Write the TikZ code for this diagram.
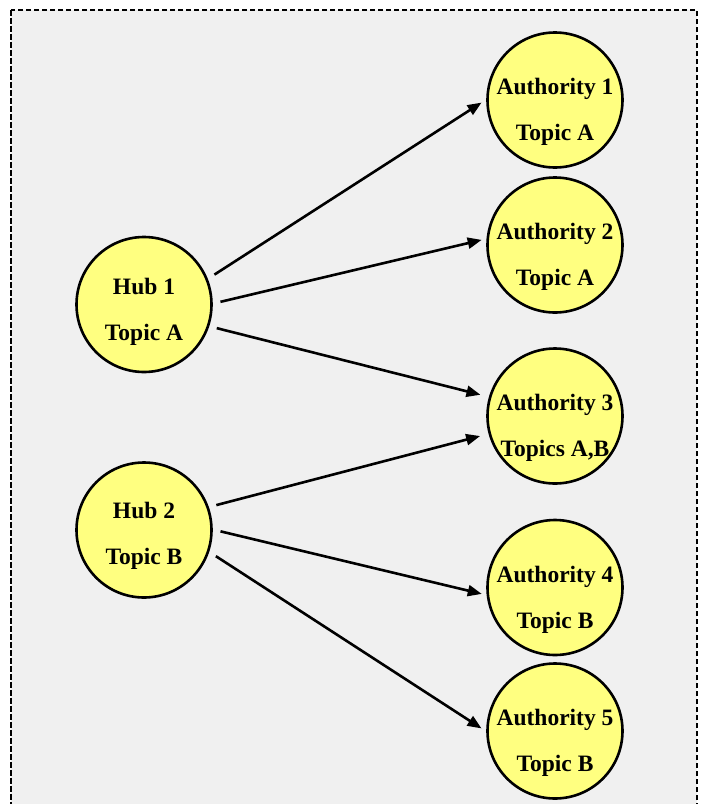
\documentclass[tikz,border=0pt]{standalone}
\usepackage{fontspec}
\setmainfont{Liberation Serif}
\usetikzlibrary{arrows.meta}
\definecolor{panelgray}{HTML}{F0F0F0}
\definecolor{nodeyellow}{HTML}{FFFF80}
\begin{document}
\begin{tikzpicture}[x=1pt,y=-1pt,
  panel/.style={draw=black,fill=panelgray,line width=2.8pt,dash pattern=on 5.5pt off 2.5pt},
  topic/.style={circle,draw=black,fill=nodeyellow,line width=2.6pt,minimum size=135pt,inner sep=0pt},
  hub/.style={topic,outer sep=9pt},
  authority/.style={topic,outer sep=6pt},
  caption/.style={align=center,inner sep=0pt,font=\fontsize{23.5}{46}\selectfont\bfseries},
  link/.style={line width=2.6pt,-{Triangle[length=14pt,width=11pt]}}]
  \useasboundingbox (0,0) rectangle (703,804);
  % dashed panel, running past the lower edge
  \path[panel] (11,10) rectangle (697,830);

  % hubs
  \node[hub] (h1) at (144,304.5) {};
  \node[hub] (h2) at (144,530) {};
  \node[caption] (h1t) at ([yshift=-7pt]h1.center) {Hub 1\\Topic A};
  \node[caption] (h2t) at ([yshift=-6pt]h2.center) {Hub 2\\Topic B};

  % authorities
  \node[authority] (a1) at (555,100) {};
  \node[authority] (a2) at (555,245) {};
  \node[authority] (a3) at (555,416) {};
  \node[authority] (a4) at (555,587.5) {};
  \node[authority] (a5) at (555,731) {};
  \node[caption] (a1t) at ([yshift=-12pt]a1.center) {Authority 1\\Topic A};
  \node[caption] (a2t) at ([yshift=-12pt]a2.center) {Authority 2\\Topic A};
  \node[caption] (a3t) at ([yshift=-12pt]a3.center) {Authority 3\\Topics A,B};
  \node[caption] (a4t) at ([yshift=-12pt]a4.center) {Authority 4\\Topic B};
  \node[caption] (a5t) at ([yshift=-12pt]a5.center) {Authority 5\\Topic B};

  % hub -> authority links
  \draw[link] (h1.23.6) -- (a1.182.4);
  \draw[link] (h1.2.7) -- (a2.176.1);
  \draw[link,shorten >=4pt] (h1.-18.3) -- (a3.164.4);
  \draw[link,shorten >=4pt] (h2.19.4) -- (a3.195.6);
  \draw[link] (h2.-1.2) -- (a4.185.1);
  \draw[link] (h2.-20.6) -- (a5.178.4);
\end{tikzpicture}
\end{document}
